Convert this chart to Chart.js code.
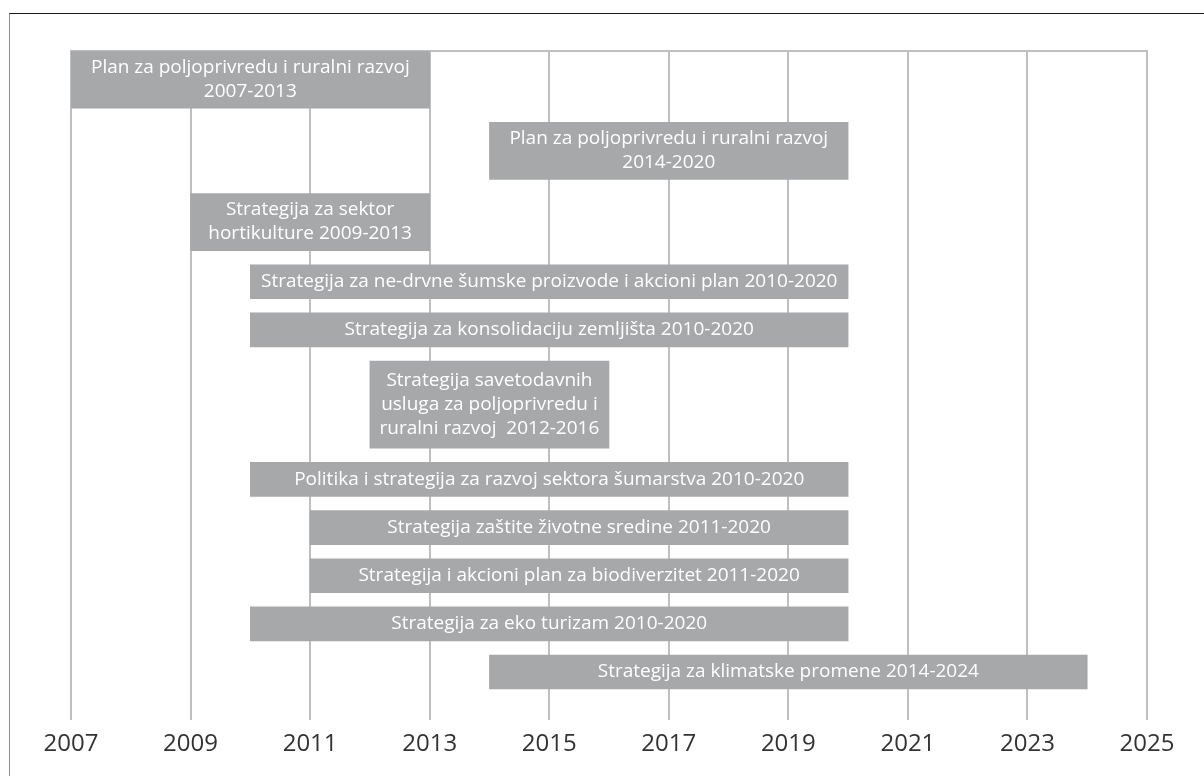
<!DOCTYPE html>
<html>
<head>
<meta charset="utf-8">
<script src="https://cdn.jsdelivr.net/npm/chart.js@4.4.1/dist/chart.umd.min.js"></script>
<style>
  html, body { margin: 0; padding: 0; background: #fff; }
  #wrap { position: relative; width: 1204px; height: 776px; overflow: hidden; }
  #frame { position: absolute; left: 9px; top: 13px; right: 0; bottom: 0;
           border-top: 1px solid #1a1a1a; border-left: 1px solid #8c8c8c; }
  canvas { position: absolute; left: 0; top: 0; }
</style>
</head>
<body>
<div id="wrap">
  <div id="frame"></div>
  <canvas id="myChart" width="1204" height="776"></canvas>
</div>
<script>
// plans and strategies, one bar each, top to bottom
const barLabels = [
    "Plan za poljoprivredu i ruralni razvoj\n2007-2013",
    "Plan za poljoprivredu i ruralni razvoj\n2014-2020",
    "Strategija za sektor\nhortikulture 2009-2013",
    "Strategija za ne-drvne šumske proizvode i akcioni plan 2010-2020",
    "Strategija za konsolidaciju zemljišta 2010-2020",
    "Strategija savetodavnih\nusluga za poljoprivredu i\nruralni razvoj  2012-2016",
    "Politika i strategija za razvoj sektora šumarstva 2010-2020",
    "Strategija zaštite životne sredine 2011-2020",
    "Strategija i akcioni plan za biodiverzitet 2011-2020",
    "Strategija za eko turizam 2010-2020",
    "Strategija za klimatske promene 2014-2024"
];
const startYears = [2007, 2014, 2009, 2010, 2010, 2012, 2010, 2011, 2011, 2010, 2014];
const endYears = [2013, 2020, 2013, 2020, 2020, 2016, 2020, 2020, 2020, 2020, 2024];
const yearTicks = [2007, 2009, 2011, 2013, 2015, 2017, 2019, 2021, 2023, 2025];

// bar height depends on how many text lines it holds
const thicknessByLines = { 1: 34, 2: 57, 3: 87 };
const rowGap = 14;
const plotHeight = 667;

let rowTop = 0;
const datasets = [];
for (let i = 0; i < barLabels.length; i++) {
    let lines = barLabels[i].split("\n").length;
    let h = thicknessByLines[lines];
    datasets.push({
        label: barLabels[i],
        data: [{ x: [startYears[i], endYears[i]], y: rowTop + h / 2 }],
        barThickness: h,
        backgroundColor: "#a7a8aa",
        borderWidth: 0
    });
    rowTop += h + rowGap;
}

const barText = {
    id: "barText",
    afterDatasetsDraw(chart) {
        const ctx = chart.ctx;
        ctx.save();
        ctx.font = "19px 'Open Sans'";
        ctx.fillStyle = "#ffffff";
        ctx.textAlign = "center";
        ctx.textBaseline = "middle";
        chart.data.datasets.forEach((ds, i) => {
            const bar = chart.getDatasetMeta(i).data[0];
            const lines = barLabels[i].split("\n");
            const cx = (bar.x + bar.base) / 2;
            lines.forEach((line, k) => {
                ctx.fillText(line, cx, bar.y + (k - (lines.length - 1) / 2) * 24);
            });
        });
        ctx.restore();
    }
};

let myChart = new Chart("myChart", {
    type: "bar",
    data: { datasets: datasets },
    plugins: [barText],
    options: {
        indexAxis: "y",
        responsive: false,
        animation: false,
        skipNull: true,
        layout: { padding: { left: 71, right: 57, top: 51, bottom: 7 } },
        plugins: { legend: { display: false }, tooltip: { enabled: false } },
        scales: {
            x: {
                type: "linear",
                position: "bottom",
                min: yearTicks[0],
                max: yearTicks[yearTicks.length - 1],
                afterBuildTicks: axis => { axis.ticks = yearTicks.map(v => ({ value: v })); },
                grid: { color: "#bfbfbf", lineWidth: 2, drawTicks: false },
                border: { display: false },
                ticks: {
                    callback: v => String(v),
                    autoSkip: false,
                    maxRotation: 0,
                    padding: 10,
                    color: "#333333",
                    font: { family: "'Open Sans'", size: 24 }
                }
            },
            x2: {
                type: "linear",
                axis: "x",
                position: "top",
                min: yearTicks[0],
                max: yearTicks[yearTicks.length - 1],
                grid: { display: false, drawTicks: false },
                ticks: { display: false },
                border: { display: true, color: "#bfbfbf", width: 2 }
            },
            y: {
                type: "linear",
                display: false,
                reverse: true,
                offset: false,
                min: 0,
                max: plotHeight
            }
        }
    }
});
</script>
</body>
</html>
